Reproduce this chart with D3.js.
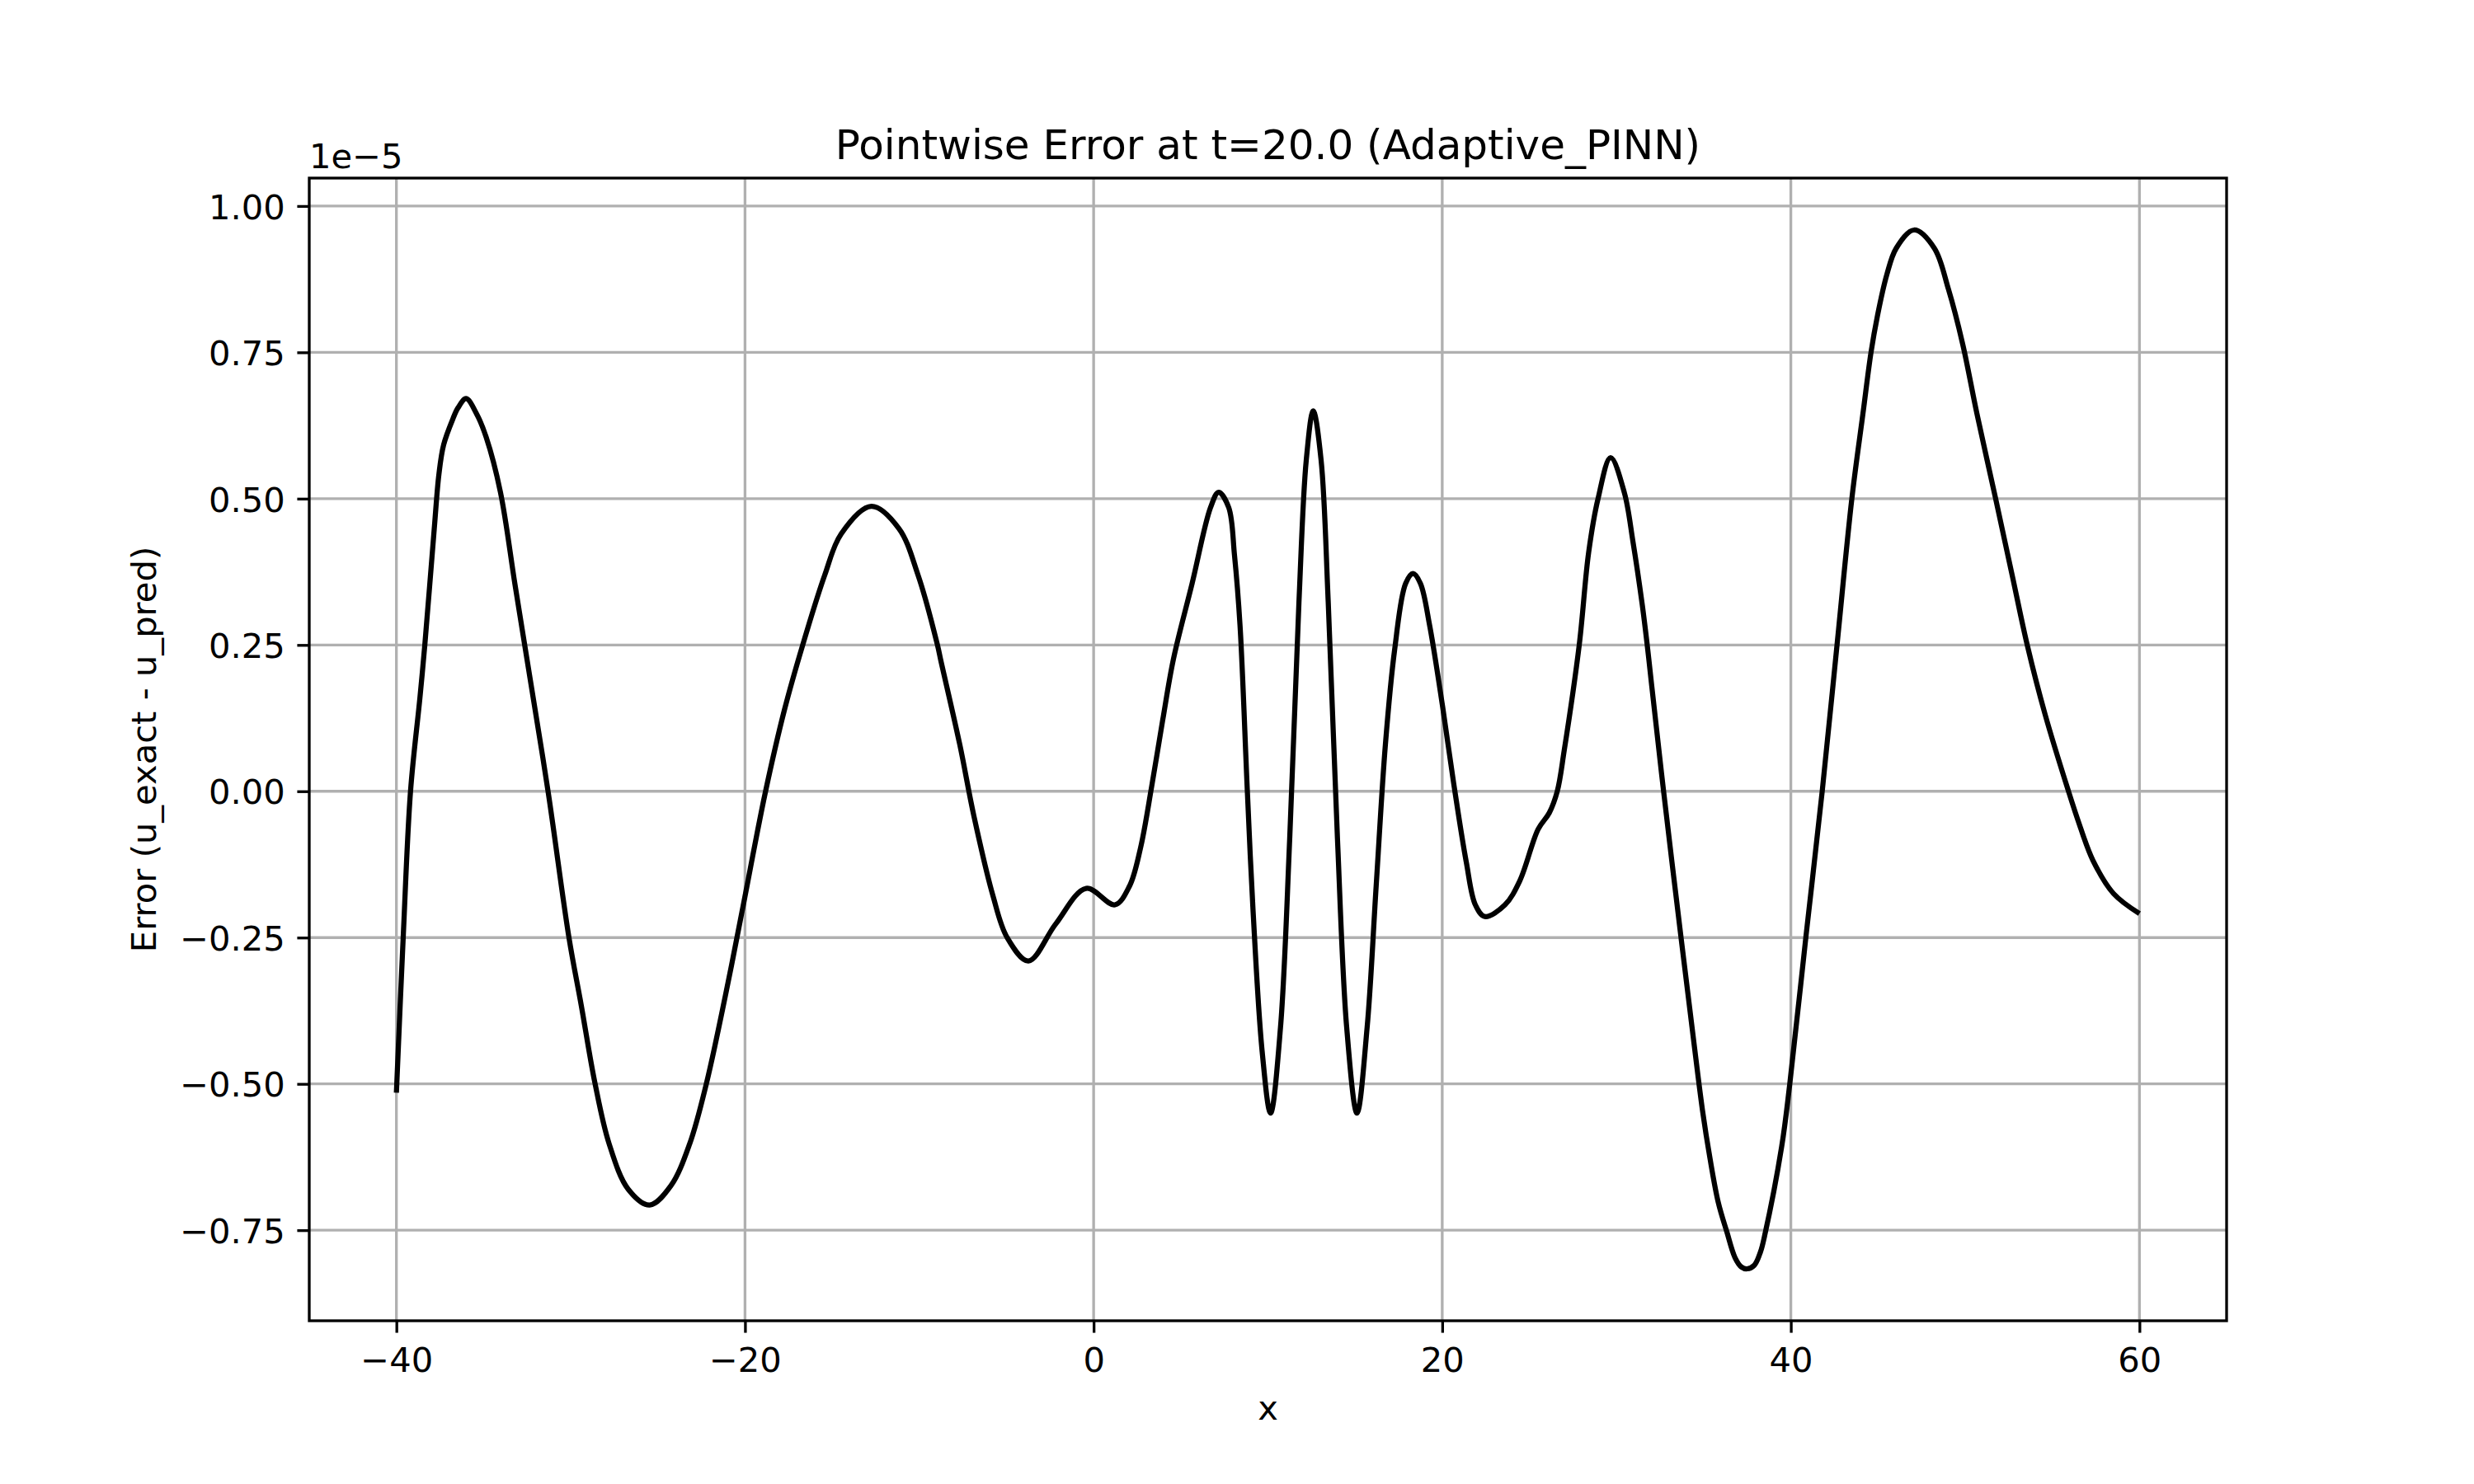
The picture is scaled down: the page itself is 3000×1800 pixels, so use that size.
<!DOCTYPE html>
<meta charset="utf-8">
<style>
body { margin: 0; background: #fff; }
text { font-family: "DejaVu Sans", sans-serif; fill: #000; }
</style>
<svg width="3000" height="1800"></svg>
<script src="https://d3js.org/d3.v7.min.js"></script>
<script>

var xs = [-40.0, -39.6, -39.19, -38.65, -38.37, -37.83, -37.56, -37.29, -36.75, -36.47,
  -36.0, -35.4, -34.85, -34.03, -33.2, -32.5, -31.3, -30.1, -29.4, -28.6,
  -27.8, -26.7, -25.47, -24.25, -23.17, -22.22, -21.13, -20.18, -18.82, -17.73,
  -16.69, -15.43, -14.48, -12.75, -11.17, -10.07, -8.96, -8.77, -7.68, -6.87,
  -5.78, -4.96, -3.74, -2.18, -0.43, 1.22, 2.06, 2.69, 3.33, 3.96,
  4.58, 5.65, 6.71, 7.17, 7.75, 8.08, 8.4, 8.82, 9.14, 9.67,
  10.15, 10.72, 11.25, 11.78, 12.2, 12.6, 13.05, 13.46, 13.99, 14.52,
  15.11, 15.69, 16.21, 16.74, 17.27, 17.9, 18.33, 18.75, 19.28, 20.02,
  20.65, 21.38, 21.9, 22.44, 23.6, 24.45, 25.5, 26.14, 26.6, 27.0,
  27.86, 28.4, 28.94, 29.66, 30.45, 30.94, 31.47, 31.76, 32.02, 32.7,
  33.7, 34.4, 34.93, 35.36, 35.84, 36.33, 36.8, 37.17, 37.49, 37.9,
  38.26, 38.5, 39.47, 39.94, 40.86, 41.8, 42.65, 43.5, 44.14, 44.6,
  44.96, 45.5, 46.05, 47.07, 48.23, 49.04, 49.86, 50.67, 51.75, 52.7,
  53.57, 54.6, 55.93, 56.57, 57.33, 58.52, 60.0];
var errs = [-0.515, -0.243, 0.0, 0.16, 0.25, 0.448, 0.542, 0.592, 0.637, 0.655,
  0.671, 0.645, 0.605, 0.511, 0.354, 0.224, 0.0, -0.25, -0.365, -0.5,
  -0.602, -0.68, -0.707, -0.674, -0.602, -0.5, -0.35, -0.207, 0.0, 0.14,
  0.25, 0.369, 0.44, 0.487, 0.449, 0.369, 0.25, 0.224, 0.08, -0.042,
  -0.178, -0.25, -0.29, -0.227, -0.166, -0.194, -0.162, -0.097, 0.008, 0.121,
  0.226, 0.355, 0.485, 0.511, 0.485, 0.404, 0.283, 0.0, -0.2, -0.445,
  -0.55, -0.404, -0.081, 0.323, 0.566, 0.65, 0.566, 0.323, -0.081, -0.404,
  -0.55, -0.404, -0.162, 0.08, 0.242, 0.355, 0.372, 0.355, 0.283, 0.145,
  0.015, -0.121, -0.194, -0.214, -0.194, -0.153, -0.065, -0.037, 0.0, 0.07,
  0.25, 0.408, 0.5, 0.570, 0.51, 0.427, 0.32, 0.25, 0.18, 0.0,
  -0.25, -0.42, -0.545, -0.627, -0.703, -0.753, -0.797, -0.813, -0.816, -0.81,
  -0.787, -0.759, -0.608, -0.5, -0.25, 0.0, 0.25, 0.5, 0.646, 0.75,
  0.811, 0.882, 0.928, 0.959, 0.928, 0.858, 0.764, 0.646, 0.5, 0.369,
  0.249, 0.13, 0.0, -0.058, -0.118, -0.175, -0.209];

var xTicks = [-40, -20, 0, 20, 40, 60];
var yTicks = [-0.75, -0.5, -0.25, 0, 0.25, 0.5, 0.75, 1.0];

var titleText = "Pointwise Error at t=20.0 (Adaptive_PINN)";
var xLabel = "x";
var yLabel = "Error (u_exact - u_pred)";
var offsetText = "1e\u22125";

var svg = d3.select("svg"),
    plotL = 375, plotR = 2700, plotT = 216, plotB = 1602,
    tickLen = 14.58,
    fontSize = 41.67;

svg.append("rect").attr("width", 3000).attr("height", 1800).attr("fill", "#fff");

var data = xs.map(function(x, i) { return {x: x, y: errs[i]}; });

// matplotlib style 5% margins
var xe = d3.extent(xs), ye = d3.extent(errs);
var xm = (xe[1] - xe[0]) * 0.05, ym = (ye[1] - ye[0]) * 0.05;

var x = d3.scaleLinear().domain([xe[0] - xm, xe[1] + xm]).range([plotL, plotR]);
var y = d3.scaleLinear().domain([ye[0] - ym, ye[1] + ym]).range([plotB, plotT]);

var fmtMinus = function(s) { return s.replace("-", "\u2212"); };

// grid
var grid = svg.append("g").attr("stroke", "#b0b0b0").attr("stroke-width", 3.33);
grid.selectAll(".gx").data(xTicks).enter().append("line")
    .attr("x1", function(d) { return x(d); }).attr("x2", function(d) { return x(d); })
    .attr("y1", plotT).attr("y2", plotB);
grid.selectAll(".gy").data(yTicks).enter().append("line")
    .attr("y1", function(d) { return y(d); }).attr("y2", function(d) { return y(d); })
    .attr("x1", plotL).attr("x2", plotR);

// the curve
var line = d3.line()
    .x(function(d) { return x(d.x); })
    .y(function(d) { return y(d.y); })
    .curve(d3.curveCatmullRom.alpha(0.5));

svg.append("path")
    .datum(data)
    .attr("fill", "none")
    .attr("stroke", "#000")
    .attr("stroke-width", 6.25)
    .attr("stroke-linejoin", "round")
    .attr("d", line);

// axes
var xAxis = svg.append("g")
    .attr("transform", "translate(0," + plotB + ")")
    .call(d3.axisBottom(x).tickValues(xTicks).tickSize(tickLen).tickPadding(17.8)
      .tickFormat(function(d) { return fmtMinus(d3.format("d")(d)); }));

var yAxis = svg.append("g")
    .attr("transform", "translate(" + plotL + ",0)")
    .call(d3.axisLeft(y).tickValues(yTicks).tickSize(tickLen).tickPadding(14.58)
      .tickFormat(function(d) { return fmtMinus(d3.format(".2f")(d)); }));

[xAxis, yAxis].forEach(function(g) {
  g.select(".domain").remove();
  g.attr("font-family", null).attr("font-size", null);
  g.selectAll(".tick line").attr("stroke", "#000").attr("stroke-width", 3.33);
  g.selectAll(".tick text").attr("font-size", fontSize).attr("fill", "#000");
});
yAxis.selectAll(".tick text").attr("dy", "0.365em");

// spines
svg.append("rect")
    .attr("x", plotL).attr("y", plotT)
    .attr("width", plotR - plotL).attr("height", plotB - plotT)
    .attr("fill", "none").attr("stroke", "#000").attr("stroke-width", 3.33);

// texts
svg.append("text")
    .attr("x", (plotL + plotR) / 2).attr("y", 193)
    .attr("text-anchor", "middle").attr("font-size", 50)
    .text(titleText);

svg.append("text")
    .attr("x", plotL).attr("y", 204)
    .attr("font-size", fontSize)
    .text(offsetText);

svg.append("text")
    .attr("x", (plotL + plotR) / 2).attr("y", 1722)
    .attr("text-anchor", "middle").attr("font-size", fontSize)
    .text(xLabel);

svg.append("text")
    .attr("transform", "translate(188.5," + (plotT + plotB) / 2 + ") rotate(-90)")
    .attr("text-anchor", "middle").attr("font-size", fontSize)
    .text(yLabel);

</script>
